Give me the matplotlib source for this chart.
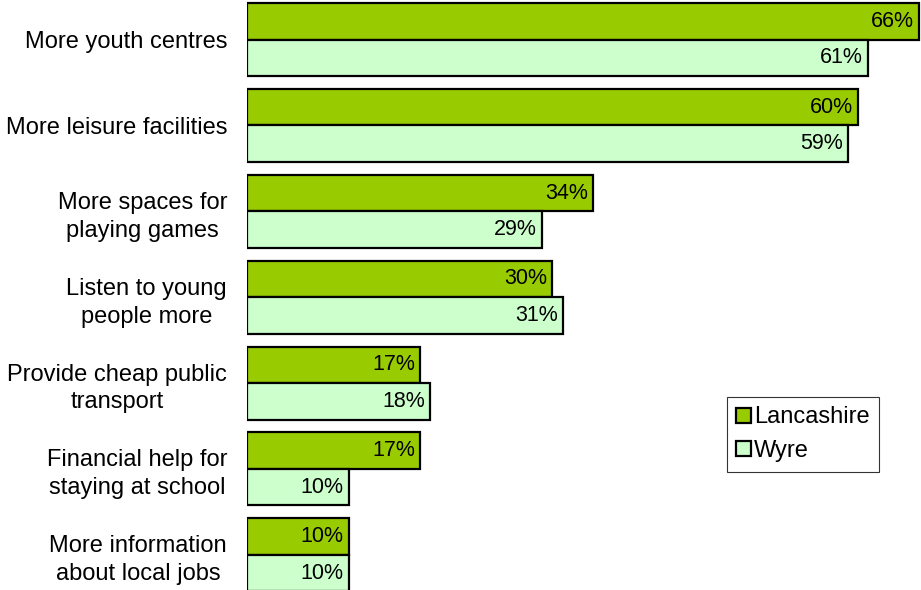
import numpy as np
import matplotlib.pyplot as plt
from matplotlib.patches import Patch

plt.rcParams['font.family'] = ['Liberation Sans', 'DejaVu Sans']

categories = ['More youth centres', 'More leisure facilities', 'More spaces for\nplaying games',
              'Listen to young\npeople more', 'Provide cheap public\ntransport',
              'Financial help for\nstaying at school', 'More information\nabout local jobs']
lancashire = [66, 60, 34, 30, 17, 17, 10]
wyre = [61, 59, 29, 31, 18, 10, 10]

fs = 17
fig = plt.figure(figsize=(9.21, 5.9), dpi=100)
ax = fig.add_axes([247 / 921, 0, 1 - 247 / 921, 1])

y = np.arange(len(categories))
h = 0.425
ax.barh(y - h / 2, lancashire, height=h, color='#99CC00', edgecolor='black', linewidth=1.6)
ax.barh(y + h / 2, wyre, height=h, color='#CCFFCC', edgecolor='black', linewidth=1.6)

for i in range(len(categories)):
    ax.text(lancashire[i] - 0.5, y[i] - h / 2, '%d%%' % lancashire[i], ha='right', va='center', fontsize=15.5)
    ax.text(wyre[i] - 0.5, y[i] + h / 2, '%d%%' % wyre[i], ha='right', va='center', fontsize=15.5)

ax.set_xlim(0, 66.2)
ax.set_ylim(6.41, -0.46)
ax.set_yticks(y)
ax.set_yticklabels(categories, fontsize=fs, ha='right', multialignment='center', linespacing=1.35)
ax.tick_params(axis='y', length=0, pad=14.4)
ax.set_xticks([])
for s in ax.spines.values():
    s.set_visible(False)

handles = [Patch(facecolor='#99CC00', edgecolor='black', linewidth=1.6, label='Lancashire'),
           Patch(facecolor='#CCFFCC', edgecolor='black', linewidth=1.6, label='Wyre')]
leg = fig.legend(handles=handles, loc='upper left', bbox_to_anchor=(727 / 921, 1 - 397 / 590),
                 fontsize=fs, frameon=True, fancybox=False, handlelength=0.6, handleheight=0.6,
                 handletextpad=0.15, borderpad=0.4, labelspacing=0.5, borderaxespad=0)
leg.get_frame().set_edgecolor('black')
leg.get_frame().set_linewidth(0.8)

fig.savefig('out.png', dpi=100)
